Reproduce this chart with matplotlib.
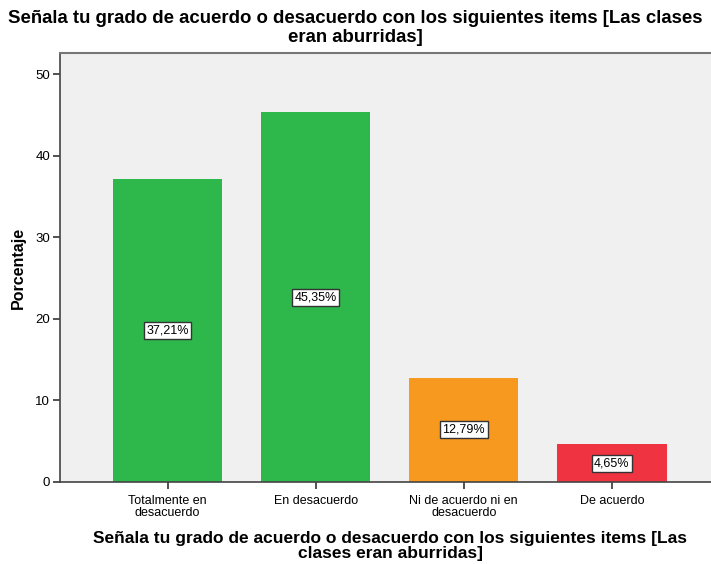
import matplotlib
matplotlib.use("Agg")
import matplotlib.pyplot as plt

plt.rcParams["font.family"] = ["Liberation Sans", "DejaVu Sans"]

categories = ["Totalmente en\ndesacuerdo", "En desacuerdo",
              "Ni de acuerdo ni en\ndesacuerdo", "De acuerdo"]
percentages = [37.21, 45.35, 12.79, 4.65]
bar_colors = ["#2eb84b", "#2eb84b", "#f7991f", "#ef3340"]
y_ticks = [0, 10, 20, 30, 40, 50]
title = "Señala tu grado de acuerdo o desacuerdo con los siguientes items [Las clases\neran aburridas]"
xlabel = "Señala tu grado de acuerdo o desacuerdo con los siguientes items [Las\nclases eran aburridas]"

W, H = 711, 564
fig = plt.figure(figsize=(W / 100, H / 100), dpi=100)
ax = fig.add_axes([60 / W, 1 - 482 / H, (W - 60) / W, (482 - 53) / H])
ax.set_facecolor("#f0f0f0")

x = list(range(len(categories)))
ax.bar(x, percentages, width=0.74, color=bar_colors, zorder=2)
for xi, v in zip(x, percentages):
    ax.text(xi, v / 2, f"{v:.2f}%".replace(".", ","), ha="center", va="center",
            fontsize=9, zorder=3,
            bbox=dict(boxstyle="square,pad=0.2", fc="white", ec="#333333", lw=1))

ax.set_xlim(-0.726, 3.67)
ax.set_ylim(0, 52.6)
ax.set_yticks(y_ticks)
ax.set_xticks(x)
ax.set_xticklabels(categories, fontsize=9, linespacing=1.05)
ax.tick_params(axis="y", labelsize=9.5, length=5, width=1.2, color="#333333", pad=2)
ax.tick_params(axis="x", length=5, width=1.2, color="#333333", pad=4)

for side in ["left", "bottom"]:
    ax.spines[side].set_color("#444444")
    ax.spines[side].set_linewidth(1.2)
ax.spines["top"].set_color("#777777")
ax.spines["top"].set_linewidth(1.5)
ax.spines["right"].set_visible(False)

ax.set_ylabel("Porcentaje", fontsize=11.5, fontweight="bold")
ax.yaxis.set_label_coords(-(60 - 26) / (W - 60), 0.5)
ax.set_xlabel(xlabel, fontsize=12.5, fontweight="bold", linespacing=1.0)
ax.xaxis.set_label_coords((390 - 60) / (W - 60), -(531 - 482) / (482 - 53))
ax.xaxis.label.set_va("top")

# title sits a little lower with wider line pitch in the reference
fig.text(0.5, 1 - 10 / H, title, ha="center", va="top", fontsize=13.4,
         fontweight="bold", linespacing=1.15)

fig.savefig("out.png", dpi=100)
